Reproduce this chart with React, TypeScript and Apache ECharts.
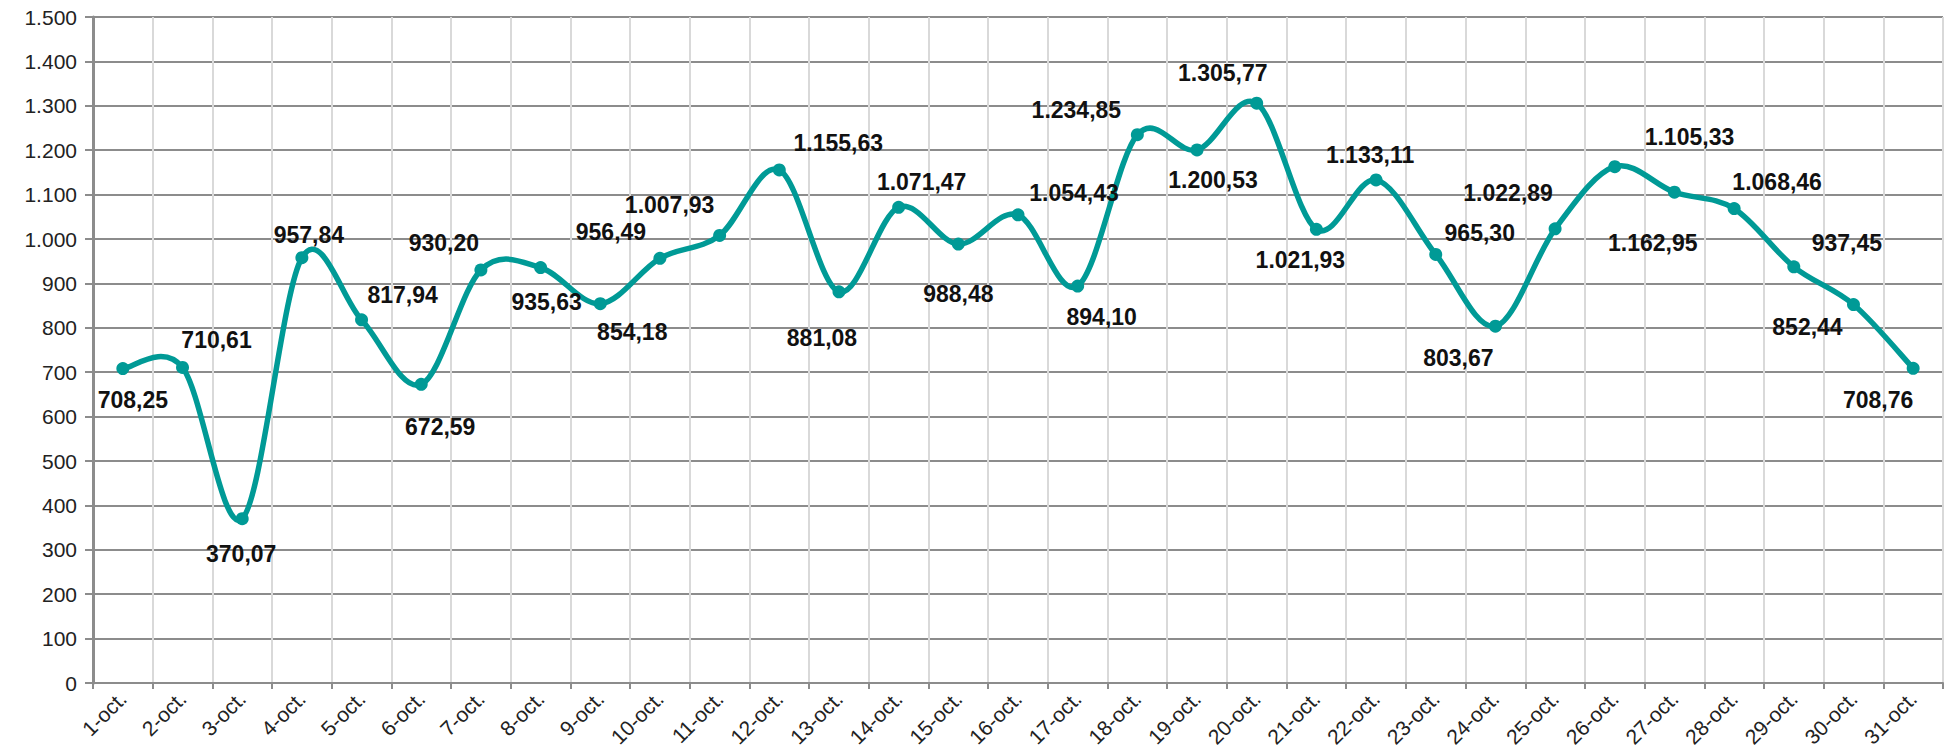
import React, { useEffect, useRef } from "react";
import * as echarts from "echarts";

const categories = [
  "1-oct.", "2-oct.", "3-oct.", "4-oct.", "5-oct.", "6-oct.", "7-oct.", "8-oct.",
  "9-oct.", "10-oct.", "11-oct.", "12-oct.", "13-oct.", "14-oct.", "15-oct.", "16-oct.",
  "17-oct.", "18-oct.", "19-oct.", "20-oct.", "21-oct.", "22-oct.", "23-oct.", "24-oct.",
  "25-oct.", "26-oct.", "27-oct.", "28-oct.", "29-oct.", "30-oct.", "31-oct.",
];

const values = [
  708.25, 710.61, 370.07, 957.84, 817.94, 672.59, 930.2, 935.63,
  854.18, 956.49, 1007.93, 1155.63, 881.08, 1071.47, 988.48, 1054.43,
  894.1, 1234.85, 1200.53, 1305.77, 1021.93, 1133.11, 965.3, 803.67,
  1022.89, 1162.95, 1105.33, 1068.46, 937.45, 852.44, 708.76,
];

// label offsets (pixels) relative to each point
const labelOffsets: [number, number][] = [
  [10, 31], [34, -27], [-1, 35], [7, -23], [41, -25], [19, 43], [-37, -27], [6, 34],
  [32, 28], [-49, -26], [-50, -30], [59, -27], [-17, 46], [23, -25], [0, 50], [56, -22],
  [24, 31], [-61, -25], [16, 30], [-34, -30], [-16, 31], [-6, -25], [44, -21], [-37, 32],
  [-47, -36], [38, 76], [15, -55], [43, -27], [53, -24], [-46, 22], [-35, 32],
];

const yMin = 0;
const yMax = 1500;
const yInterval = 100;

const LINE_COLOR = "#009a96";

function fmtThousands(intPart: string): string {
  return intPart.replace(/\B(?=(\d{3})+(?!\d))/g, ".");
}

function fmtEs(v: number): string {
  const [i, d] = v.toFixed(2).split(".");
  return fmtThousands(i) + "," + d;
}

export default function App() {
  const ref = useRef<HTMLDivElement>(null);
  useEffect(() => {
    if (!ref.current) return;
    const chart = echarts.init(ref.current, undefined, { renderer: "svg" });
    const font = "'Liberation Sans', Arial, sans-serif";
    const n = values.length;
    const clampIdx = (k: number) => Math.max(0, Math.min(n - 1, k));
    chart.setOption({
      animation: false,
      backgroundColor: "#ffffff",
      grid: { left: 93, right: 5, top: 17, bottom: 69, containLabel: false },
      xAxis: {
        type: "category",
        data: categories,
        boundaryGap: true,
        axisLine: { show: true, lineStyle: { color: "#8c8c8c", width: 2 } },
        axisTick: { show: true, alignWithLabel: false, length: 6, lineStyle: { color: "#8c8c8c", width: 2 } },
        splitLine: { show: true, lineStyle: { color: "#d9d9d9", width: 2 } },
        axisLabel: {
          rotate: 45,
          interval: 0,
          margin: 12,
          fontFamily: font,
          fontSize: 21,
          color: "#222222",
        },
      },
      yAxis: {
        type: "value",
        min: yMin,
        max: yMax,
        interval: yInterval,
        axisLine: { show: true, lineStyle: { color: "#8c8c8c", width: 3 } },
        axisTick: { show: true, length: 8, lineStyle: { color: "#8c8c8c", width: 2 } },
        splitLine: { show: true, lineStyle: { color: "#8c8c8c", width: 2 } },
        axisLabel: {
          margin: 16,
          fontFamily: font,
          fontSize: 21,
          color: "#222222",
          formatter: (v: number) => fmtThousands(String(Math.round(v))),
        },
      },
      series: [
        {
          type: "custom",
          data: values.map((v, i) => [i, v]),
          encode: { x: 0, y: 1 },
          silent: true,
          z: 3,
          renderItem: (params: any, api: any) => {
            const i = params.dataIndex;
            if (i >= n - 1) return null;
            const p0 = api.coord([clampIdx(i - 1), values[clampIdx(i - 1)]]);
            const p1 = api.coord([i, values[i]]);
            const p2 = api.coord([i + 1, values[i + 1]]);
            const p3 = api.coord([clampIdx(i + 2), values[clampIdx(i + 2)]]);
            const t = 1 / 6;
            return {
              type: "bezierCurve",
              shape: {
                x1: p1[0],
                y1: p1[1],
                cpx1: p1[0] + (p2[0] - p0[0]) * t,
                cpy1: p1[1] + (p2[1] - p0[1]) * t,
                cpx2: p2[0] - (p3[0] - p1[0]) * t,
                cpy2: p2[1] - (p3[1] - p1[1]) * t,
                x2: p2[0],
                y2: p2[1],
              },
              style: { stroke: LINE_COLOR, lineWidth: 5.5, fill: "none", lineCap: "round" },
            };
          },
        },
        {
          type: "line",
          data: values,
          symbol: "circle",
          symbolSize: 13,
          lineStyle: { color: LINE_COLOR, width: 0, opacity: 0 },
          itemStyle: { color: LINE_COLOR },
          label: {
            show: true,
            position: "inside",
            align: "center",
            verticalAlign: "middle",
            fontFamily: font,
            fontWeight: "bold",
            fontSize: 23,
            color: "#111111",
            formatter: (p: any) => fmtEs(p.value),
          },
          labelLayout: (params: any) => {
            const o = labelOffsets[params.dataIndex] || [0, 0];
            return { dx: o[0], dy: o[1], hideOverlap: false };
          },
          z: 5,
        },
      ],
    });
    return () => chart.dispose();
  }, []);
  return (
    <div
      ref={ref}
      style={{ position: "absolute", left: 0, top: 0, width: 1948, height: 752 }}
    />
  );
}
